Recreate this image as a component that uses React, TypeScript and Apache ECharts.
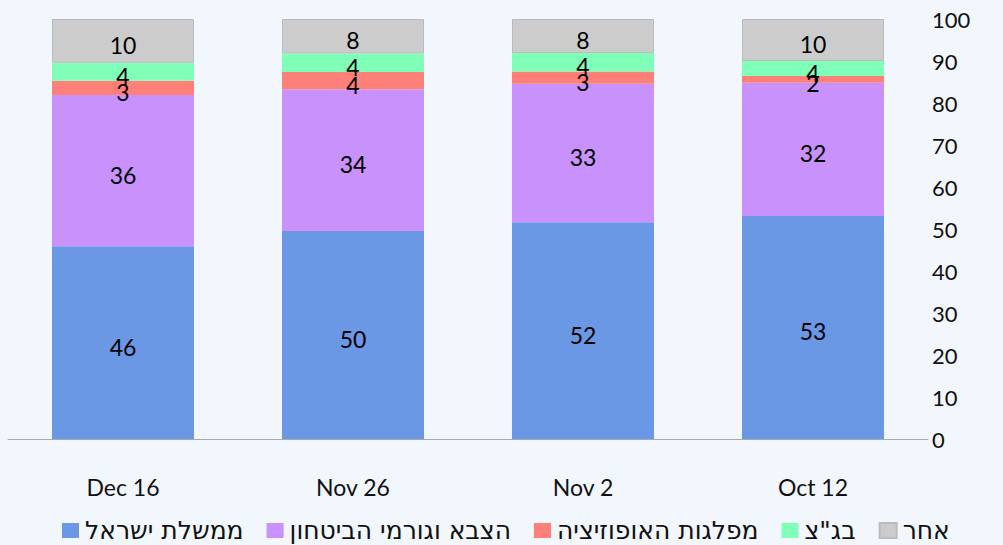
import React, { useEffect, useRef } from "react";
import * as echarts from "echarts";

const categories = ["Dec 16", "Nov 26", "Nov 2", "Oct 12"];
const seriesNames = ["ממשלת ישראל", "הצבא וגורמי הביטחון", "מפלגות האופוזיציה", "בג\"צ", "אחר"];
const government = [45.9, 49.5, 51.6, 53.1];
const army = [36.0, 33.8, 33.0, 31.7];
const opposition = [3.4, 4.1, 2.9, 1.6];
const court = [4.3, 4.4, 4.4, 3.6];
const other = [10.4, 8.2, 8.1, 10.0];
const yTicks = [0, 10, 20, 30, 40, 50, 60, 70, 80, 90, 100];
const colors = ["#6a98e5", "#c891fc", "#ff7f79", "#80ffb9", "#cccccc"];

export default function App() {
  const ref = useRef<HTMLDivElement>(null);
  useEffect(() => {
    if (!ref.current) return;
    const chart = echarts.init(ref.current, undefined, { renderer: "svg" });
    const data = [government, army, opposition, court, other];
    const font = "Lato, 'Noto Sans', sans-serif";

    chart.setOption({
      animation: false,
      backgroundColor: "#f2f6fd",
      grid: { left: 8, right: 75, top: 19, bottom: 106, containLabel: false },
      legend: {
        top: 518,
        left: 62,
        padding: 0,
        itemWidth: 17,
        itemHeight: 15,
        itemGap: 23,
        icon: "rect",
        textStyle: {
          fontFamily: "'DejaVu Sans', sans-serif",
          fontSize: 25,
          lineHeight: 24,
          color: "#111",
          padding: [0, 0, 0, 1],
        },
        data: seriesNames,
      },
      xAxis: {
        type: "category",
        data: categories,
        axisLine: { show: true, lineStyle: { color: "#aaaaaa" } },
        axisTick: { show: false },
        axisLabel: { margin: 36, fontSize: 23, color: "#111", fontFamily: font },
      },
      yAxis: {
        type: "value",
        position: "right",
        min: yTicks[0],
        max: yTicks[yTicks.length - 1],
        interval: 10,
        splitLine: { show: false },
        axisLine: { show: false },
        axisTick: { show: false },
        axisLabel: { margin: 4, fontSize: 22, color: "#111", fontFamily: font },
      },
      series: seriesNames.map((name, i) => ({
        name,
        type: "bar",
        stack: "total",
        barWidth: 142,
        data: data[i],
        itemStyle: {
          color: colors[i],
          borderColor: i === 4 ? "#bbbbbb" : undefined,
          borderWidth: i === 4 ? 1 : 0,
        },
        label: {
          show: true,
          position: "inside",
          offset: [0, 4],
          formatter: (p: any) => String(Math.round(p.value)),
          fontSize: 23,
          color: "#000",
          fontFamily: font,
        },
      })),
    });
    return () => chart.dispose();
  }, []);
  return <div ref={ref} style={{ width: 1003, height: 545, position: "absolute", left: 0, top: 0 }} />;
}
